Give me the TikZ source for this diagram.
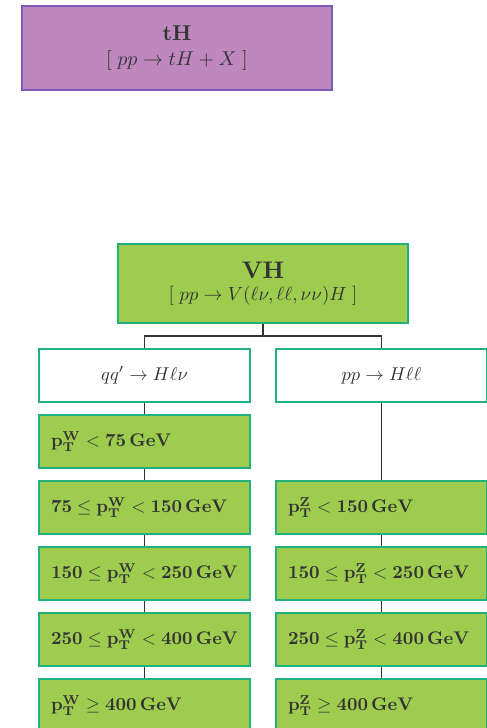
\documentclass[tikz,border=0pt]{standalone}
\usepackage{amsmath}
\usepackage{graphicx}
\definecolor{gfill}{HTML}{9ECC4F}
\definecolor{gdraw}{HTML}{22B07D}
\definecolor{pfill}{HTML}{BE88BE}
\definecolor{pdraw}{HTML}{7B5CB8}
\definecolor{txt}{HTML}{333333}
\definecolor{conn}{HTML}{333333}
\newcommand{\ptw}{\mathbf{p}_{\mathbf{T}}^{\mathbf{W}}}
\newcommand{\ptz}{\mathbf{p}_{\mathbf{T}}^{\mathbf{Z}}}
\newcommand{\gev}{\,\mathbf{GeV}}
\newcommand{\bt}[1]{\scalebox{1.83}{$#1$}}
\newcommand{\pt}[1]{\scalebox{1.85}{$#1$}}
\begin{document}
\begin{tikzpicture}[x=1pt,y=-1pt,
  box/.style={draw, line width=1.6pt, rectangle, inner sep=0pt, text=txt, align=center},
  title/.style={box, fill=pfill, draw=pdraw, minimum width=310pt, minimum height=84pt},
  vh/.style={box, fill=gfill, draw=gdraw, minimum width=290pt, minimum height=79pt},
  proc/.style={box, fill=white, draw=gdraw, minimum width=211pt, minimum height=53pt},
  bin/.style={box, fill=gfill, draw=gdraw, minimum width=211pt, minimum height=53pt, text width=187pt, align=left},
  link/.style={draw=conn, line width=1.3pt}
]
\useasboundingbox (0,0) rectangle (487,728);
\begin{scope}
\clip (0,0) rectangle (487,728);
\node[title] (tH) at (177,48) {\scalebox{2.15}{\textbf{tH}}\\[9pt]\scalebox{2.0}{$[\;pp\to tH+X\;]$}};
\node[vh] (VH) at (263,283.5) {\scalebox{2.4}{\textbf{VH}}\\[6pt]\scalebox{1.9}{$[\;pp\to V(\ell\nu,\ell\ell,\nu\nu)H\;]$}};
\node[proc] (pl) at (144.5,375.5) {\pt{qq'\to H\ell\nu}};
\node[proc] (pr) at (381.5,375.5) {\pt{pp\to H\ell\ell}};
\node[bin] (w1) at (144.5,441.5) {\bt{\ptw<\mathbf{75}\gev}};
\node[bin] (w2) at (144.5,507.5) {\bt{\mathbf{75}\le\ptw<\mathbf{150}\gev}};
\node[bin] (w3) at (144.5,573.5) {\bt{\mathbf{150}\le\ptw<\mathbf{250}\gev}};
\node[bin] (w4) at (144.5,639.5) {\bt{\mathbf{250}\le\ptw<\mathbf{400}\gev}};
\node[bin] (w5) at (144.5,705.5) {\bt{\ptw\ge\mathbf{400}\gev}};
\node[bin] (z2) at (381.5,507.5) {\bt{\ptz<\mathbf{150}\gev}};
\node[bin] (z3) at (381.5,573.5) {\bt{\mathbf{150}\le\ptz<\mathbf{250}\gev}};
\node[bin] (z4) at (381.5,639.5) {\bt{\mathbf{250}\le\ptz<\mathbf{400}\gev}};
\node[bin] (z5) at (381.5,705.5) {\bt{\ptz\ge\mathbf{400}\gev}};
\coordinate (split) at (263,336);
\draw[link] (VH.south) -- (split);
\draw[link] (split) -| (pl.north);
\draw[link] (split) -| (pr.north);
\draw[link] (pl.south) -- (w1.north);
\draw[link] (w1.south) -- (w2.north);
\draw[link] (w2.south) -- (w3.north);
\draw[link] (w3.south) -- (w4.north);
\draw[link] (w4.south) -- (w5.north);
\draw[link] (pr.south) -- (z2.north);
\draw[link] (z2.south) -- (z3.north);
\draw[link] (z3.south) -- (z4.north);
\draw[link] (z4.south) -- (z5.north);
\end{scope}
\end{tikzpicture}
\end{document}
